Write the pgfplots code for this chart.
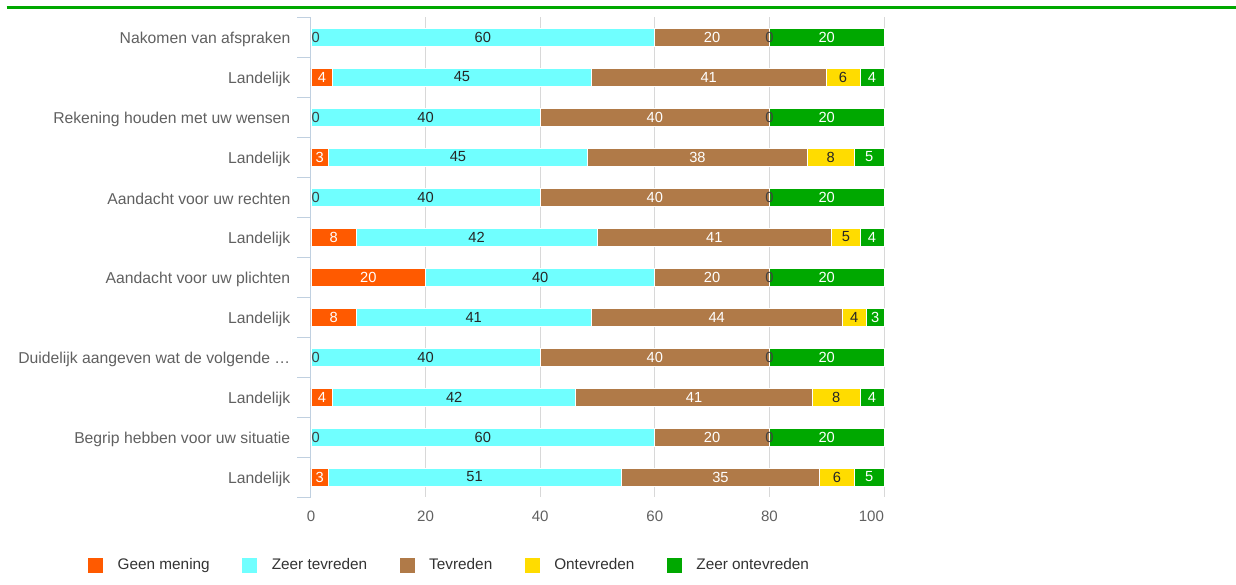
\documentclass[border=0pt]{standalone}
\usepackage{pgfplots}
\usepackage{pgfplotstable}
\pgfplotsset{compat=1.18}
\usepackage{fontspec}
\setmainfont{Liberation Sans}

\definecolor{cGeen}{RGB}{255,90,0}
\definecolor{cZeerT}{RGB}{112,255,255}
\definecolor{cTevr}{RGB}{176,122,72}
\definecolor{cOnt}{RGB}{255,220,0}
\definecolor{cZeerO}{RGB}{0,168,0}
\definecolor{axisblue}{RGB}{192,208,224}
\definecolor{gridgray}{RGB}{216,216,216}
\definecolor{labgray}{RGB}{96,96,96}

% row, values per answer, rounded labels
\pgfplotstableread{
row a    b    c    d   e   la lb lc ld le
0   0    60   20   0   20  0  60 20 0  20
1   3.8  45.1 41.0 5.9 4.2 4  45 41 6  4
2   0    40   40   0   20  0  40 40 0  20
3   3.0  45.3 38.3 8.2 5.2 3  45 38 8  5
4   0    40   40   0   20  0  40 40 0  20
5   7.9  42.0 41.0 4.9 4.2 8  42 41 5  4
6   20   40   20   0   20  20 40 20 0  20
7   7.9  41.0 43.8 4.2 3.1 8  41 44 4  3
8   0    40   40   0   20  0  40 40 0  20
9   3.8  42.4 41.3 8.3 4.2 4  42 41 8  4
10  0    60   20   0   20  0  60 20 0  20
11  3.0  51.1 34.7 6.0 5.2 3  51 35 6  5
}\data

\pgfplotsset{
  common/.style={
    at={(233.25pt,-372.75pt)}, anchor=south west,
    scale only axis, width=429.75pt, height=360pt,
    xmin=0, xmax=100, ymin=-0.5, ymax=11.5, y dir=reverse,
    clip=false},
}
\tikzset{lab/.style={font=\fontsize{11}{12}\selectfont}}

\begin{document}
\begin{tikzpicture}
\useasboundingbox (0,0) rectangle (927pt,-438.75pt);
\draw[cZeerO, line width=2.25pt] (5pt,-6pt) -- (927pt,-6pt);
\begin{axis}[
  common,
  xbar stacked, bar width=13.5pt,
  axis lines*=left,
  x axis line style={draw=none},
  y axis line style={draw=axisblue, line width=0.75pt},
  xtick={0,20,...,100},
  xticklabels={0,20,40,60,80,\makebox[0pt][r]{100}},
  xmajorgrids, major grid style={gridgray, line width=0.75pt},
  ytick={0,...,11},
  yticklabels={Nakomen van afspraken, Landelijk, Rekening houden met uw wensen, Landelijk,
    Aandacht voor uw rechten, Landelijk, Aandacht voor uw plichten, Landelijk,
    Duidelijk aangeven wat de volgende …, Landelijk, Begrip hebben voor uw situatie, Landelijk},
  major tick length=0pt,
  extra y ticks={-0.5,0.5,...,11.5},
  extra y tick labels={},
  extra y tick style={major tick length=10.5pt, tick align=outside, tick style={axisblue, line width=0.75pt}},
  tick label style={text=labgray, font=\fontsize{11.3}{13}\selectfont},
  yticklabel style={xshift=-12pt, yshift=-1.5pt, font=\fontsize{11.8}{13}\selectfont},
  xticklabel style={yshift=-7pt},
  /pgf/number format/assume math mode=true,
  point meta=explicit symbolic,
  nodes near coords,
  every node near coord/.append style={anchor=center, lab},
  legend columns=5,
  legend style={at={(-0.389,-0.142)}, anchor=west, draw=none, inner sep=0pt,
     font=\fontsize{11.5}{13}\selectfont, text=black!80,
     /tikz/every even column/.append style={column sep=22.5pt}},
  legend image code/.code={\fill[#1, draw=none] (0pt,-5.6pt) rectangle (11.25pt,5.6pt);
     \path[draw=none, fill=none] (0pt,-5.6pt) rectangle (20pt,5.6pt);},
]
\addplot[fill=cGeen, draw=white, line width=0.6pt,
  every node near coord/.append style={text=white}]
  table[x=a, y=row, meta=la] {\data};
\addplot[fill=cZeerT, draw=white, line width=0.6pt,
  every node near coord/.append style={text=black!85}]
  table[x=b, y=row, meta=lb] {\data};
\addplot[fill=cTevr, draw=white, line width=0.6pt,
  every node near coord/.append style={text=white}]
  table[x=c, y=row, meta=lc] {\data};
\addplot[fill=cOnt, draw=white, line width=0.6pt,
  every node near coord/.append style={text=black!85}]
  table[x=d, y=row, meta=ld] {\data};
\addplot[fill=cZeerO, draw=white, line width=0.6pt,
  every node near coord/.append style={text=white}]
  table[x=e, y=row, meta=le] {\data};
\legend{Geen mening, Zeer tevreden, Tevreden, Ontevreden, Zeer ontevreden}
\end{axis}
% the zero labels, drawn over the bars
\begin{axis}[common, hide axis,
  nodes near coords={0},
  every node near coord/.append style={anchor=center, lab, text=black!75}]
% Geen mening = 0
\addplot[only marks, mark=*, mark size=0pt, draw=none, fill=none,
  every node near coord/.append style={xshift=3.5pt}]
  coordinates {(0,0) (0,2) (0,4) (0,8) (0,10)};
% Ontevreden = 0
\addplot[only marks, mark=*, mark size=0pt, draw=none, fill=none]
  coordinates {(80,0) (80,2) (80,4) (80,6) (80,8) (80,10)};
\end{axis}
\end{tikzpicture}
\end{document}
